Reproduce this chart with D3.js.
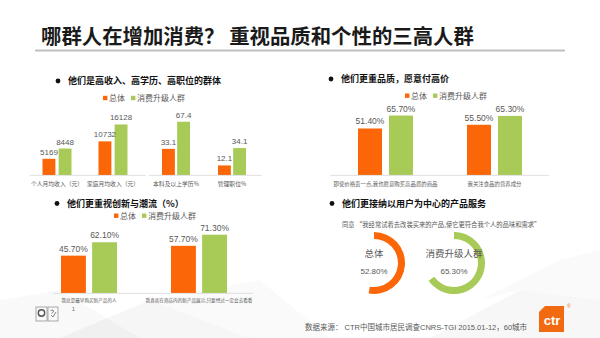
<!DOCTYPE html>
<html><head><meta charset="utf-8">
<script src="https://cdn.jsdelivr.net/npm/d3@7"></script>
<style>
html,body{margin:0;padding:0;background:#fff;}
svg{display:block;font-family:'Liberation Sans','Noto Sans CJK SC',sans-serif;}
</style></head>
<body><div id="chart"></div>
<script>
// ---------- data ----------
const seriesNames = ["总体", "消费升级人群"];
const incomeCats = ["个人月均收入（元）", "家庭月均收入（元）"];
const incomeTotal = [5169, 10732];
const incomeUpgrade = [8448, 16128];
const eduCats = ["本科及以上学历%", "管理职位%"];
const eduTotal = [33.1, 12.1];
const eduUpgrade = [67.4, 34.1];
const qualityCats = ["即使价格贵一点,我也愿意购买高品质的商品", "我关注食品的营养成分"];
const qualityTotal = [51.4, 55.5];
const qualityUpgrade = [65.7, 65.3];
const innovCats = ["我总是最早购买新产品的人", "我喜欢在商店内的新产品展示,只要经过一定会去看看"];
const innovTotal = [45.7, 57.7];
const innovUpgrade = [62.1, 71.3];
const donutLabels = ["总体", "消费升级人群"];
const donutValues = [52.8, 65.3];

const ORANGE = "#FB6608", GREEN = "#A8CB58", TXT = "#595959";
const colors = [ORANGE, GREEN];

const W = 600, H = 338;
const svg = d3.select("#chart").append("svg").attr("width", W).attr("height", H);

// faint background facets
const bg = svg.append("g").attr("fill", "#000");
[
  [[0,338],[0,300],[60,290],[140,338]],
  [[60,338],[150,300],[250,338]],
  [[150,300],[260,280],[330,338],[250,338]],
  [[430,338],[520,290],[600,300],[600,338]],
  [[480,300],[560,260],[600,250],[600,300],[520,290]]
].forEach((p,i)=>bg.append("polygon").attr("points", p.join(" ")).attr("opacity", [0.025,0.035,0.02,0.03,0.02][i]));

// ---------- title ----------
svg.append("text").attr("x", 41).attr("y", 43.5).attr("font-size", 20.4).attr("font-weight", "bold")
  .attr("fill", "#1a1a1a").attr("font-family", "'Noto Sans CJK SC',sans-serif")
  .text("哪群人在增加消费？  重视品质和个性的三高人群");
svg.append("line").attr("x1", 35).attr("x2", 565).attr("y1", 50.5).attr("y2", 50.5)
  .attr("stroke", "#BFBFBF").attr("stroke-width", 2);

// ---------- helpers ----------
function sectionTitle(x, y, text) {
  svg.append("circle").attr("cx", x).attr("cy", y).attr("r", 2.4).attr("fill", "#111");
  svg.append("text").attr("x", x + 10).attr("y", y + 3.3).attr("font-size", 9).attr("font-weight", "bold")
    .attr("fill", "#111").attr("font-family", "'Noto Sans CJK SC',sans-serif").text(text);
}
function legend(x, y) {
  const g = svg.append("g").attr("transform", `translate(${x},${y})`);
  let off = 0;
  seriesNames.forEach((n, i) => {
    g.append("rect").attr("x", off).attr("y", -2.2).attr("width", 4.4).attr("height", 4.4).attr("fill", colors[i]);
    g.append("text").attr("x", off + 6).attr("y", 2.8).attr("font-size", 8).attr("fill", TXT)
      .attr("font-family", "'Noto Sans CJK SC',sans-serif").text(n);
    off += 6 + n.length * 8 + 6;
  });
}
function barChart(o) {
  const g = svg.append("g");
  const x0 = d3.scaleBand().domain(o.cats).range(o.xRange);
  const c = x0.bandwidth() / 2;
  const x1 = d3.scaleBand().domain([0, 1]).range([c - o.inner / 2, c + o.inner / 2]).paddingInner(o.pad);
  const y = d3.scaleLinear().domain(o.yDomain).range(o.yRange);
  const rows = o.cats.map((cat, i) => ({cat, vals: [o.total[i], o.upgrade[i]]}));
  const grp = g.selectAll("g.grp").data(rows).join("g").attr("transform", d => `translate(${x0(d.cat)},0)`);
  grp.selectAll("rect").data(d => d.vals.map((v, k) => ({v, k}))).join("rect")
    .attr("x", d => x1(d.k)).attr("width", x1.bandwidth())
    .attr("y", d => y(d.v)).attr("height", d => y(0) - y(d.v)).attr("fill", d => colors[d.k]);
  grp.selectAll("text.val").data(d => d.vals.map((v, k) => ({v, k}))).join("text").attr("class", "val")
    .attr("x", d => x1(d.k) + x1.bandwidth() / 2).attr("y", d => y(d.v) - 4)
    .attr("text-anchor", "middle").attr("font-size", o.valFont).attr("fill", TXT).text(d => o.fmt(d.v));
  // baseline axis
  const axis = d3.axisBottom(x0).tickSize(0).tickPadding(o.catPad);
  const ag = g.append("g").attr("transform", `translate(0,${y(0)})`).call(axis);
  ag.select(".domain").attr("stroke", "#D9D9D9").attr("stroke-width", 0.8)
    .attr("d", `M${o.lineRange[0]},0.4H${o.lineRange[1]}`);
  ag.selectAll("text").attr("font-size", o.catFont).attr("fill", TXT)
    .attr("font-family", "'Noto Sans CJK SC',sans-serif");
}

// ---------- panel 1 ----------
sectionTitle(58, 81, "他们是高收入、高学历、高职位的群体");
legend(103, 98);
barChart({cats: incomeCats, total: incomeTotal, upgrade: incomeUpgrade,
  xRange: [29, 141], inner: 29, pad: 0.2, yDomain: [0, 18000], yRange: [175, 118.6],
  fmt: d3.format("d"), valFont: 8, catFont: 5.8, catPad: 7, lineRange: [30, 146]});
barChart({cats: eduCats, total: eduTotal, upgrade: eduUpgrade,
  xRange: [148, 260], inner: 28, pad: 0.15, yDomain: [0, 80], yRange: [175, 111.8],
  fmt: d3.format(".1f"), valFont: 8, catFont: 5.8, catPad: 7, lineRange: [149, 262]});

// ---------- panel 2 ----------
sectionTitle(331, 79, "他们更重品质，愿意付高价");
legend(405, 95.7);
barChart({cats: qualityCats, total: qualityTotal, upgrade: qualityUpgrade,
  xRange: [331, 549], inner: 55, pad: 0.226, yDomain: [0, 80], yRange: [175, 102.6],
  fmt: v => d3.format(".2f")(v) + "%", valFont: 8.5, catFont: 5.4, catPad: 7, lineRange: [330, 549]});

// ---------- panel 3 ----------
sectionTitle(57, 203.5, "他们更重视创新与潮流（%）");
legend(114, 215.7);
barChart({cats: innovCats, total: innovTotal, upgrade: innovUpgrade,
  xRange: [34, 254], inner: 56, pad: 0.2, yDomain: [0, 80], yRange: [293, 227.6],
  fmt: v => d3.format(".2f")(v) + "%", valFont: 8.5, catFont: 4.6, catPad: 5.5, lineRange: [53, 253]});

// ---------- panel 4 ----------
sectionTitle(332, 203.5, "他们更接纳以用户为中心的产品服务");
svg.append("text").attr("x", 342).attr("y", 226.5).attr("font-size", 6.3).attr("fill", TXT)
  .attr("font-family", "'Noto Sans CJK SC',sans-serif")
  .text("同意 “我经常试着去改装买来的产品,使它更符合我个人的品味和需求”");
const donutX = d3.scalePoint().domain(donutLabels).range([374, 454]);
const arc = d3.arc().innerRadius(24).outerRadius(31).startAngle(0);
donutLabels.forEach((lab, i) => {
  const g = svg.append("g").attr("transform", `translate(${donutX(lab)},263)`);
  g.append("path").attr("d", arc({endAngle: 2 * Math.PI * donutValues[i] / 100})).attr("fill", colors[i]);
  g.append("text").attr("y", -6).attr("text-anchor", "middle").attr("font-size", 9.5).attr("fill", TXT)
    .attr("font-family", "'Noto Sans CJK SC',sans-serif").text(lab);
  g.append("text").attr("y", 10.5).attr("text-anchor", "middle").attr("font-size", 8).attr("fill", TXT)
    .text(d3.format(".2f")(donutValues[i]) + "%");
});

// ---------- footer ----------
svg.append("text").attr("x", 305).attr("y", 330).attr("font-size", 7.5).attr("fill", TXT)
  .text("数据来源：  CTR中国城市居民调查CNRS-TGI   2015.01-12，60城市");
const logo = svg.append("g").attr("transform", "translate(539,306)");
logo.append("path").attr("d", "M6,0H25V26H0V6Z").attr("fill", "#F26A10");
logo.append("text").attr("x", 13).attr("y", 19).attr("text-anchor", "middle").attr("font-size", 13)
  .attr("font-weight", "bold").attr("fill", "#fff").text("ctr");
svg.append("text").attr("x", 567).attr("y", 308).attr("font-size", 5).attr("fill", "#F26A10").text("®");

// certification icons
const ic = svg.append("g").attr("fill", "none").attr("stroke", "#888").attr("stroke-width", 0.7);
ic.append("rect").attr("x", 36).attr("y", 307).attr("width", 11).attr("height", 14);
ic.append("circle").attr("cx", 41.5).attr("cy", 313).attr("r", 3.2).attr("stroke-width", 1.4).attr("stroke", "#555");
ic.append("rect").attr("x", 48).attr("y", 307).attr("width", 10).attr("height", 14);
ic.append("path").attr("d", "M50.5,310.5 L53,310 L53.5,312 L51.5,313.5 M51,315 L53,317 L56,312").attr("stroke", "#555");
svg.append("text").attr("x", 72).attr("y", 311).attr("font-size", 5).attr("fill", TXT).text("1");
</script></body></html>
